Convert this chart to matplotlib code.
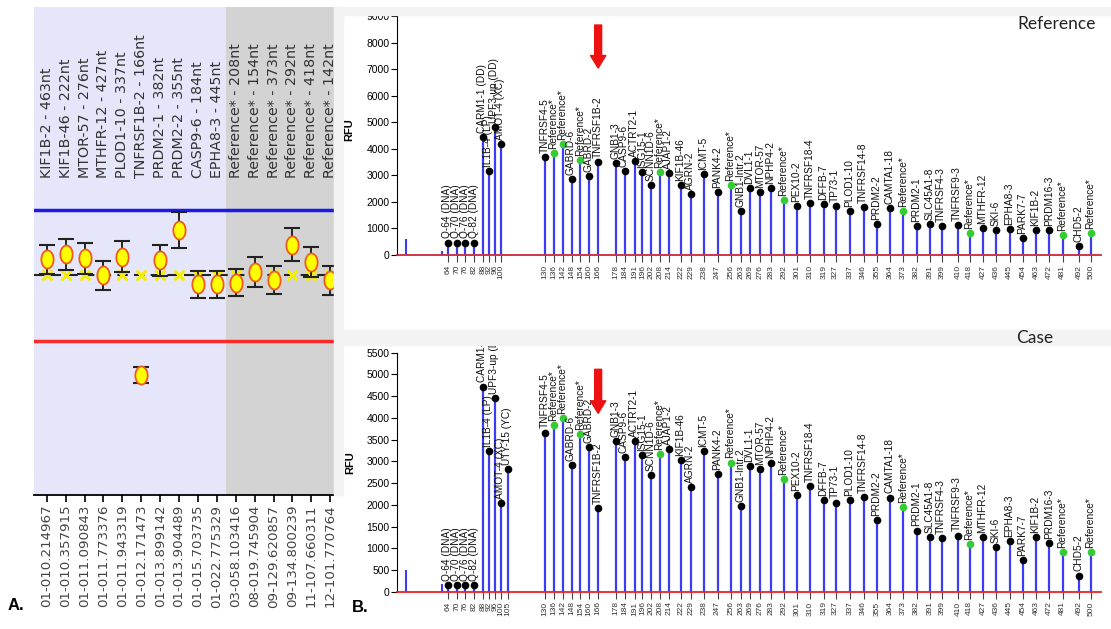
import numpy as np
import matplotlib
matplotlib.use("Agg")
import matplotlib.pyplot as plt
from matplotlib.patches import Rectangle

# ---------------- data: panel A ----------------
probe_labels_A = ["KIF1B-2 - 463nt", "KIF1B-46 - 222nt", "MTOR-57 - 276nt", "MTHFR-12 - 427nt",
                  "PLOD1-10 - 337nt", "TNFRSF1B-2 - 166nt", "PRDM2-1 - 382nt", "PRDM2-2 - 355nt",
                  "CASP9-6 - 184nt", "EPHA8-3 - 445nt", "Reference* - 208nt", "Reference* - 154nt",
                  "Reference* - 373nt", "Reference* - 292nt", "Reference* - 418nt", "Reference* - 142nt"]
sample_ids = ["01-010.214967", "01-010.357915", "01-011.090843", "01-011.773376", "01-011.943319",
              "01-012.171473", "01-013.899142", "01-013.904489", "01-015.703735", "01-022.775329",
              "03-058.103416", "08-019.745904", "09-129.620857", "09-134.800239", "11-107.660311",
              "12-101.770764"]
ratios = [1.074, 1.096, 1.078, 1.001, 1.085, 0.545, 1.070, 1.207,
          0.960, 0.960, 0.968, 1.016, 0.979, 1.141, 1.062, 0.979]
ratio_err = [0.067, 0.070, 0.071, 0.065, 0.070, 0.036, 0.071, 0.080,
             0.062, 0.062, 0.062, 0.067, 0.062, 0.075, 0.067, 0.066]
upper_threshold = 1.3
lower_threshold = 0.7
n_probe_cols = 10   # light (probe) columns; remaining are reference columns

# ---------------- data: panel B ----------------
probe_sizes = [64, 70, 76, 82, 88, 92, 96, 100, 105,
               130, 136, 142, 148, 154, 160, 166,
               178, 184, 191, 196, 202, 208, 214, 222, 229, 238, 247,
               256, 263, 269, 276, 283, 292,
               301, 310, 319, 327,
               337, 346, 355, 364, 373, 382, 391, 399,
               410, 418, 427, 436, 445, 454, 463,
               472, 481, 492, 500]
probe_names = ["Q-64 (DNA)", "Q-70 (DNA)", "Q-76 (DNA)", "Q-82 (DNA)", "CARM1-1 (DD)", "IL1B-4 (LP)",
               "UPF3-up (DD)", "AMOT-4 (XC)", "UTY-15 (YC)",
               "TNFRSF4-5", "Reference*", "Reference*", "GABRD-6", "Reference*", "GABRD-2", "TNFRSF1B-2",
               "GNB1-3", "CASP9-6", "ACTRT2-1", "ISG15-1", "SCNN1D-6", "Reference*", "AJAP1-2",
               "KIF1B-46", "AGRN-2", "ICMT-5", "PANK4-2",
               "Reference*", "GNB1-Intr.2", "DVL1-1", "MTOR-57", "NPHP4-2", "Reference*",
               "PEX10-2", "TNFRSF18-4", "DFFB-7", "TP73-1",
               "PLOD1-10", "TNFRSF14-8", "PRDM2-2", "CAMTA1-18", "Reference*", "PRDM2-1",
               "SLC45A1-8", "TNFRSF4-3",
               "TNFRSF9-3", "Reference*", "MTHFR-12", "SKI-6", "EPHA8-3", "PARK7-7", "KIF1B-2",
               "PRDM16-3", "Reference*", "CHD5-2", "Reference*"]
nan = np.nan
reference_rfu = [470, 470, 470, 470, 4440, 3160, 4820, 4180, nan,
                 3690, 3840, 4180, 2860, 3580, 2980, 3500,
                 3465, 3165, 3540, 3125, 2635, 3125, 3090, 2635, 2300, 3050, 2375,
                 2635, 1655, 2525, 2375, 2525, 2070,
                 1845, 1960, 1920, 1845,
                 1655, 1810, 1165, 1770, 1655, 1090, 1165, 1090,
                 1130, 830, 1015, 940, 980, 640, 940,
                 940, 755, 340, 830]
case_rfu = [150, 150, 150, 150, 4720, 3240, 4460, 2030, 2830,
            3660, 3830, 4000, 2910, 3620, 3320, 1930,
            3475, 3105, 3465, 3145, 2675, 3170, 3275, 3030, 2415, 3235, 2700,
            2970, 1970, 2890, 2825, 2970, 2590,
            2215, 2430, 2110, 2050,
            2110, 2170, 1650, 2165, 1955, 1405, 1265, 1225,
            1290, 1105, 1265, 1020, 1160, 730, 1250,
            1125, 920, 370, 920]
# unlabeled small peaks (primer / noise)
extra_sizes = [36, 60]
reference_extra_rfu = [600, 160]
case_extra_rfu = [500, 180]
arrow_probe = 166

# ---------------- figure ----------------
W, H = 1111, 629
fig = plt.figure(figsize=(W / 100, H / 100), dpi=100)
ARIAL = ["Liberation Sans", "DejaVu Sans"]
WIDE = ["DejaVu Sans"]


def rect(x0, y0, x1, y1):
    return [x0 / W, 1 - y1 / H, (x1 - x0) / W, (y1 - y0) / H]


# background bands
for (x0, y0, x1, y1) in [(340, 7, 1111, 15), (340, 330, 1111, 345), (334, 7, 343, 495)]:
    fig.patches.append(Rectangle((x0 / W, 1 - y1 / H), (x1 - x0) / W, (y1 - y0) / H,
                                 transform=fig.transFigure, color="#f3f3f3", zorder=0))

# ---------------- panel A ----------------
axA = fig.add_axes(rect(34.3, 7, 334, 495))
axA.set_facecolor("#e6e6fa")
xs = np.arange(len(ratios))
axA.set_xlim(-0.66, 15.2)
axA.set_ylim(0, 2.223)
axA.axvspan(n_probe_cols - 0.5, 15.2, color="#d3d3d3", zorder=0, lw=0)
axA.axhline(upper_threshold, color="#1a1ae6", lw=2.5, zorder=2)
axA.axhline(lower_threshold, color="#ff2a2a", lw=2.5, zorder=2)
axA.axhline(1.0, color="#222222", lw=1.5, dashes=(5, 3), zorder=2)
axA.plot(xs, np.ones(len(xs)), ls="none", marker="x", color="#f5ee00", ms=7, mew=2.2, zorder=3)
axA.errorbar(xs, ratios, yerr=ratio_err, fmt="none", ecolor="#222222", elinewidth=1.4,
             capsize=5.8, capthick=1.5, zorder=4)
t = np.linspace(0, 2 * np.pi, 60)
ell = np.column_stack([0.68 * np.cos(t), np.sin(t)])
axA.plot(xs, ratios, ls="none", marker=ell, ms=13, mfc="#ffff00", mec="#f05a1e", mew=1.3, zorder=5)
for i, lab in enumerate(probe_labels_A):
    axA.text(i, 1.444, lab, rotation=90, ha="center", va="bottom", fontsize=10.3,
             color="#333333", family=WIDE)
for s in ["left", "right", "top"]:
    axA.spines[s].set_visible(False)
axA.spines["bottom"].set_linewidth(1.3)
axA.set_yticks([])
axA.set_xticks(xs)
axA.set_xticklabels(sample_ids, rotation=90, fontsize=9.6, family=WIDE, color="#444444")
axA.tick_params(axis="x", length=5, width=1.2, pad=2)

fig.text(8 / W, 1 - 605 / H, "A.", fontsize=12, fontweight="bold", family=ARIAL, va="center")
fig.text(352 / W, 1 - 607 / H, "B.", fontsize=12, fontweight="bold", family=ARIAL, va="center")


# ---------------- panel B ----------------
def draw_trace(ax, values, extra_values, ytop_tick, ystep, base_color, arrow_span):
    sizes = np.array(probe_sizes, dtype=float)
    vals = np.array(values, dtype=float)
    ok = ~np.isnan(vals)
    ax.vlines(extra_sizes, 0, extra_values, color="#3c3cf5", lw=1.5, zorder=2)
    ax.vlines(sizes[ok], 0, vals[ok], color="#3c3cf5", lw=1.6, zorder=2)
    names = np.array(probe_names)
    is_ref = np.array([n.startswith("Reference") for n in probe_names])
    ax.plot(sizes[ok & ~is_ref], vals[ok & ~is_ref], "o", color="black", ms=4.5, zorder=3)
    ax.plot(sizes[ok & is_ref], vals[ok & is_ref], "o", color="#33cc33", ms=4.5, zorder=3)
    for s, v, n in zip(sizes[ok], vals[ok], names[ok]):
        ax.annotate(n, (s, v), xytext=(-0.5, 3), textcoords="offset points", rotation=90,
                    ha="center", va="bottom", fontsize=7.3, family=ARIAL, color="#111111",
                    annotation_clip=False, clip_on=True)
    ax.set_xlim(29.6, 507)
    ax.set_xticks(sizes[ok])
    ax.set_xticklabels([str(int(s)) for s in sizes[ok]], rotation=90, fontsize=6.0,
                       family=ARIAL, color="#333333")
    ax.set_yticks(np.arange(0, ytop_tick + 1, ystep))
    ax.set_yticklabels([str(int(v)) for v in np.arange(0, ytop_tick + 1, ystep)],
                       fontsize=7.5, family=ARIAL)
    ax.tick_params(axis="x", length=5, width=0.8, color="#444444", pad=2)
    ax.tick_params(axis="y", length=4, width=0.8, pad=1.5)
    ax.spines["top"].set_visible(False)
    ax.spines["right"].set_visible(False)
    ax.spines["left"].set_bounds(0, ytop_tick)
    ax.spines["bottom"].set_color(base_color)
    ax.spines["bottom"].set_linewidth(1.3)
    ax.set_facecolor("none")
    ax.annotate("", xy=(arrow_probe, arrow_span[0]), xytext=(arrow_probe, arrow_span[1]),
                arrowprops=dict(arrowstyle="simple,head_length=0.9,head_width=1.1,tail_width=0.5",
                                color="#ee1111", shrinkA=0, shrinkB=0, mutation_scale=10),
                annotation_clip=False)


axR = fig.add_axes(rect(397, 8, 1101, 255))
axR.set_ylim(0, 9301)
draw_trace(axR, reference_rfu, reference_extra_rfu, 9000, 1000, "#c8283c", (7040, 8660))

axC = fig.add_axes(rect(397, 332, 1101, 591.7))
axC.set_ylim(0, 5976)
draw_trace(axC, case_rfu, case_extra_rfu, 5500, 500, "#f02020", (4105, 5117))

fig.text(349 / W, 1 - 130 / H, "RFU", rotation=90, fontsize=8, fontweight="bold",
         family=ARIAL, ha="center", va="center")
fig.text(350 / W, 1 - 463 / H, "RFU", rotation=90, fontsize=8, fontweight="bold",
         family=ARIAL, ha="center", va="center")

fig.text(1057 / W, 1 - 24 / H, "Reference", fontsize=12.5, family=["Lato", "DejaVu Sans"],
         ha="center", va="center", color="#222222")
fig.text(1035 / W, 1 - 338 / H, "Case", fontsize=12.5, family=["Lato", "DejaVu Sans"],
         ha="center", va="center", color="#222222")

fig.savefig("out.png", dpi=100)
